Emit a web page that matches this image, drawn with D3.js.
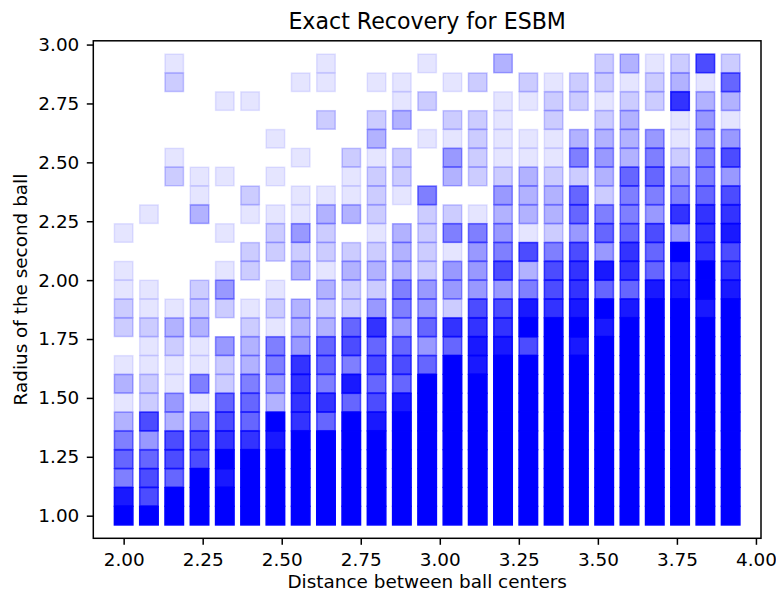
<!DOCTYPE html>
<html>
<head>
<meta charset="utf-8">
<script src="https://cdn.jsdelivr.net/npm/d3@7"></script>
<style>
  html, body { margin: 0; padding: 0; background: #fff; }
  svg { display: block; font-family: "DejaVu Sans", sans-serif; }
</style>
</head>
<body>
<svg id="chart" width="776" height="592"></svg>
<script>
// ---- data ----
const distances = [2.00, 2.08, 2.16, 2.24, 2.32, 2.40, 2.48, 2.56, 2.64, 2.72, 2.80, 2.88, 2.96,
                   3.04, 3.12, 3.20, 3.28, 3.36, 3.44, 3.52, 3.60, 3.68, 3.76, 3.84, 3.92];
const radii = [1.00, 1.08, 1.16, 1.24, 1.32, 1.40, 1.48, 1.56, 1.64, 1.72, 1.80, 1.88, 1.96,
               2.04, 2.12, 2.20, 2.28, 2.36, 2.44, 2.52, 2.60, 2.68, 2.76, 2.84, 2.92];
const xTicks = [2.00, 2.25, 2.50, 2.75, 3.00, 3.25, 3.50, 3.75, 4.00];
const yTicks = [1.00, 1.25, 1.50, 1.75, 2.00, 2.25, 2.50, 2.75, 3.00];
const trials = 10;
// successes out of `trials`, one array per distance (column), listed from radius 1.00 upward
const successes = [
  [10,9,5,6,5,3,1,3,1,0,2,2,1,1,0,1,0,0,0,0,0,0,0,0,0],
  [10,7,7,6,4,7,2,2,1,1,2,1,1,0,0,0,1,0,0,0,0,0,0,0,0],
  [10,10,6,7,7,3,4,1,1,2,3,1,0,0,0,0,0,0,2,1,0,0,0,2,1],
  [10,10,10,7,7,5,1,5,1,1,3,2,2,0,0,0,3,1,1,0,0,0,0,0,0],
  [10,10,9,10,8,7,6,2,2,4,0,2,4,1,0,1,0,0,1,0,0,0,1,0,0],
  [10,10,10,10,8,6,6,5,3,3,2,1,0,2,2,0,1,2,0,0,0,0,1,0,0],
  [10,10,10,10,9,10,3,4,5,5,1,2,1,0,2,2,1,0,1,0,1,0,0,0,0],
  [10,10,10,10,10,8,8,8,8,4,3,3,0,3,2,4,1,1,0,1,0,0,0,1,0],
  [10,10,10,10,10,6,8,5,6,6,3,2,3,1,2,2,3,1,0,0,0,2,0,1,1],
  [10,10,10,10,10,10,6,9,5,7,6,2,2,3,2,0,3,1,1,2,0,0,0,0,0],
  [10,10,10,10,10,9,7,6,7,6,8,4,2,3,2,1,2,2,2,1,3,2,0,1,0],
  [10,10,10,10,10,10,9,6,7,6,4,5,5,3,3,3,0,1,2,2,0,3,1,1,0],
  [10,10,10,10,10,10,10,10,6,4,6,4,4,2,2,2,2,5,0,0,1,0,2,0,1],
  [10,10,10,10,10,10,10,10,10,6,8,2,4,4,1,5,2,0,3,4,1,2,0,1,0],
  [10,10,10,10,10,10,10,10,9,9,8,7,4,4,4,5,1,0,2,2,2,2,0,2,0],
  [10,10,10,10,10,10,10,10,10,9,8,7,4,7,5,4,3,4,2,1,1,1,1,0,3],
  [10,10,10,10,10,10,10,10,10,7,10,9,5,3,7,1,3,3,3,1,1,0,1,2,0],
  [10,10,10,10,10,10,10,10,10,10,10,8,7,7,5,2,3,3,2,1,1,2,2,1,0],
  [10,10,10,10,10,10,10,10,10,9,10,9,8,8,7,4,6,6,2,5,3,0,2,2,0],
  [10,10,10,10,10,10,10,10,10,10,9,10,6,9,4,6,5,2,3,4,3,2,1,2,2],
  [10,10,10,10,10,10,10,10,10,10,10,9,6,8,8,6,5,5,6,3,3,3,2,1,3],
  [10,10,10,10,10,10,10,10,10,10,10,10,9,6,6,7,4,5,6,5,4,0,2,2,1],
  [10,10,10,10,10,10,10,10,10,10,10,10,9,8,10,4,8,5,4,2,1,1,8,3,2],
  [10,10,10,10,10,10,10,10,10,10,10,9,10,10,8,8,8,6,5,5,4,4,3,1,7],
  [10,10,10,10,10,10,10,10,10,10,10,10,9,8,7,9,8,7,4,7,4,1,3,6,2]
];

// ---- layout ----
const frame = { left: 93.3, right: 761, top: 40.8, bottom: 538.3 };
const tickFont = 18.4;
const svg = d3.select("#chart");

const xPad = (d3.max(distances) - d3.min(distances)) * 0.05;
const yPad = (d3.max(radii) - d3.min(radii)) * 0.05;
const x = d3.scaleLinear()
  .domain([d3.min(distances) - xPad, d3.max(distances) + xPad])
  .range([frame.left, frame.right]);
const y = d3.scaleLinear()
  .domain([d3.min(radii) - yPad, d3.max(radii) + yPad])
  .range([frame.bottom, frame.top]);

// ---- cells ----
const cells = [];
distances.forEach((d, i) => {
  radii.forEach((r, j) => {
    const k = successes[i][j];
    if (k > 0) cells.push({ d, r, a: k / trials });
  });
});

const markerOuter = 20, edge = 1.5;
const side = markerOuter - edge;
svg.append("g")
  .selectAll("rect")
  .data(cells)
  .join("rect")
  .attr("x", c => x(c.d) - side / 2)
  .attr("y", c => y(c.r) - side / 2)
  .attr("width", side)
  .attr("height", side)
  .attr("fill", "#0000ff")
  .attr("fill-opacity", c => c.a)
  .attr("stroke", "#0000ff")
  .attr("stroke-opacity", c => c.a)
  .attr("stroke-width", edge);

// ---- axes ----
const fmt = d3.format(".2f");
const gx = svg.append("g")
  .attr("transform", `translate(0,${frame.bottom})`)
  .call(d3.axisBottom(x).tickValues(xTicks).tickFormat(fmt).tickSize(6.5).tickPadding(8));
const gy = svg.append("g")
  .attr("transform", `translate(${frame.left},0)`)
  .call(d3.axisLeft(y).tickValues(yTicks).tickFormat(fmt).tickSize(6.5).tickPadding(7.5));

[gx, gy].forEach(g => {
  g.select(".domain").remove();
  g.selectAll(".tick line").attr("stroke", "#000").attr("stroke-width", 1.5);
  g.selectAll(".tick text")
    .attr("fill", "#000")
    .style("font-size", tickFont + "px")
    .style("font-family", "'DejaVu Sans', sans-serif");
});

// frame
svg.append("rect")
  .attr("x", frame.left)
  .attr("y", frame.top)
  .attr("width", frame.right - frame.left)
  .attr("height", frame.bottom - frame.top)
  .attr("fill", "none")
  .attr("stroke", "#000")
  .attr("stroke-width", 1.5);

// ---- labels ----
const cx = (frame.left + frame.right) / 2;
const cy = (frame.top + frame.bottom) / 2;
svg.append("text")
  .attr("x", cx).attr("y", 29)
  .attr("text-anchor", "middle")
  .style("font-size", "22.1px")
  .attr("fill", "#000")
  .text("Exact Recovery for ESBM");

svg.append("text")
  .attr("x", cx).attr("y", 587.5)
  .attr("text-anchor", "middle")
  .style("font-size", tickFont + "px")
  .attr("fill", "#000")
  .text("Distance between ball centers");

svg.append("text")
  .attr("transform", `translate(26.7,${cy}) rotate(-90)`)
  .attr("text-anchor", "middle")
  .style("font-size", tickFont + "px")
  .attr("fill", "#000")
  .text("Radius of the second ball");
</script>
</body>
</html>
